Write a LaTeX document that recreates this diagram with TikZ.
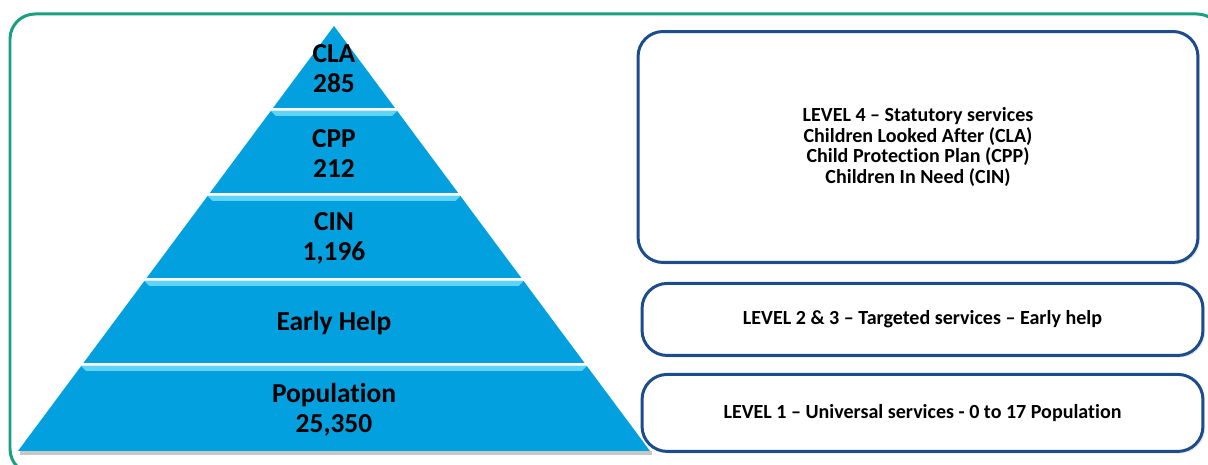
\documentclass[tikz,border=0pt]{standalone}
\usepackage{fontspec}
\setmainfont{Carlito}[Ligatures=NoCommon]
\usetikzlibrary{positioning,calc,shadows}
\definecolor{pyrblue}{RGB}{2,160,222}
\definecolor{pyrlight}{RGB}{95,212,246}
\definecolor{boxblue}{RGB}{28,76,140}
\definecolor{framegreen}{RGB}{24,160,128}

\begin{document}
\begin{tikzpicture}[x=0.02cm, y=-0.02cm, node distance=3.4mm,
    band/.style={fill=pyrblue},
    bevel/.style={fill=pyrlight},
    lbl/.style={font=\fontsize{15.6}{17}\selectfont\bfseries, align=center},
    lvl/.style={draw=boxblue, line width=1.7pt, rounded corners=0.5cm, fill=white,
      minimum width=11.22cm, align=center, font=\fontsize{11.4}{11.6}\selectfont\bfseries,
      drop shadow={shadow xshift=1.2pt, shadow yshift=-1.2pt, opacity=.18}}]
  \useasboundingbox (0,0) rectangle (1208,465);
  \draw[framegreen, line width=1.7pt, rounded corners=0.5cm] (10,14) rectangle (1222,474);

  % pyramid
  \coordinate (apex) at (334,26);
  \coordinate (bl) at (18,451);
  \coordinate (br) at (650,451);
  \fill[black!22] (20,451) rectangle (652,455);
  \foreach \t/\b/\nm/\txt in {26/108/cla/{CLA\\285}, 111/193/cpp/{CPP\\212},
      196/278/cin/{CIN\\1,196}, 281/363/eh/{Early Help}, 366/451/pop/{Population\\25,350}} {
    \pgfmathsetmacro\ft{(\t-26)/425}
    \pgfmathsetmacro\fb{(\b-26)/425}
    \fill[band] ($(apex)!\ft!(bl)$) -- ($(apex)!\fb!(bl)$) -- ($(apex)!\fb!(br)$) -- ($(apex)!\ft!(br)$) -- cycle;
    \ifnum\t>26
      \fill[bevel] ($(apex)!\ft!(bl)$) -- ($(apex)!\ft!(br)$) -- ($($(apex)!\ft!(br)$)+(-5,5)$)
        -- ($($(apex)!\ft!(bl)$)+(5,5)$) -- cycle;
    \fi
    \node[lbl] (\nm) at (334,{(\t+\b)/2+1.5}) {\txt};
  }

  % levels
  \node[lvl, minimum width=11.2cm, minimum height=4.62cm] (lvl4) at (918,147)
    {LEVEL 4 -- Statutory services\\ Children Looked After (CLA)\\ Child Protection Plan (CPP)\\ Children In Need (CIN)};
  \node[lvl, minimum height=1.44cm, below=3.6mm of lvl4, xshift=0.09cm] (lvl23)
    {LEVEL 2 \& 3 -- Targeted services -- Early help};
  \node[lvl, minimum height=1.54cm, below=3.2mm of lvl23] (lvl1)
    {LEVEL 1 -- Universal services - 0 to 17 Population};
\end{tikzpicture}
\end{document}
